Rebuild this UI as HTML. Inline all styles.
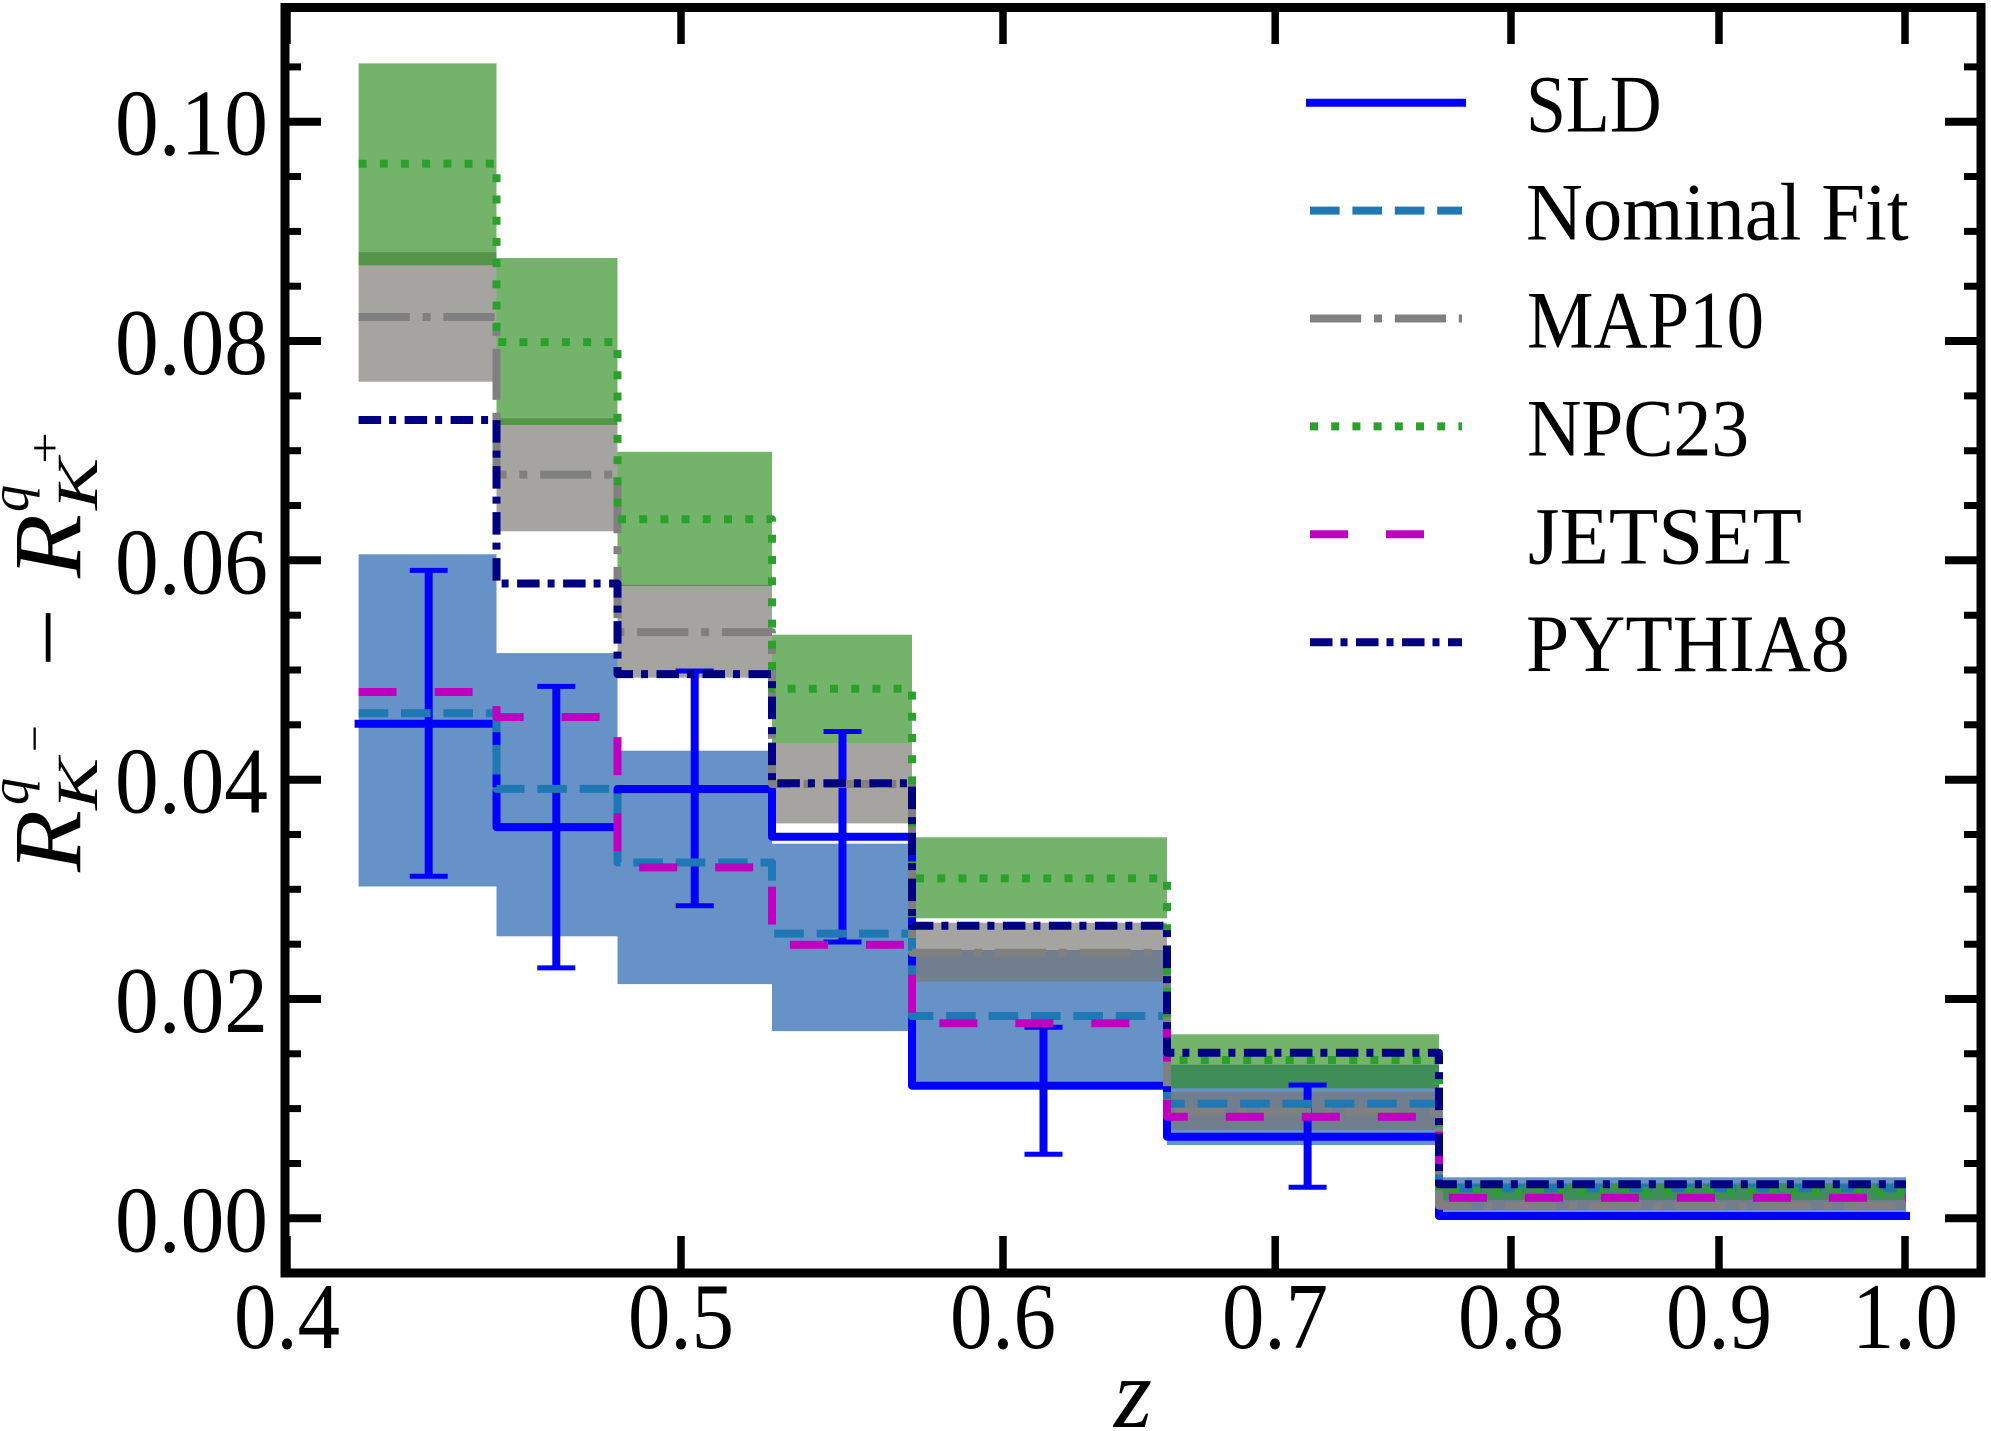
<!DOCTYPE html>
<html>
<head>
<meta charset="utf-8">
<style>
html,body{margin:0;padding:0;background:#fff;}
svg{display:block;}
text{font-family:"Liberation Serif","DejaVu Serif",serif;fill:#000;}
</style>
</head>
<body>
<svg width="1991" height="1431" viewBox="0 0 1991 1431" xmlns="http://www.w3.org/2000/svg">
<rect x="0" y="0" width="1991" height="1431" fill="#fff"/>

<!-- blue band -->
<g fill="#6792c8">
<rect x="358.6" y="554.3" width="137.9" height="332.2"/>
<rect x="496.5" y="653.1" width="121" height="283.2"/>
<rect x="617.5" y="750.7" width="154.5" height="233.4"/>
<rect x="772" y="843.7" width="140" height="187.4"/>
<rect x="912" y="950.0" width="255" height="138.9"/>
<rect x="1167" y="1064.8" width="272" height="80.2"/>
<rect x="1439" y="1177.3" width="467" height="41"/>
</g>
<!-- gray band -->
<g fill="rgb(118,115,110)" fill-opacity="0.65">
<rect x="358.6" y="252.2" width="137.9" height="129.5"/>
<rect x="496.5" y="418.3" width="121" height="113"/>
<rect x="617.5" y="584.8" width="154.5" height="92.9"/>
<rect x="772" y="743.0" width="140" height="80.4"/>
<rect x="912" y="922.7" width="255" height="59"/>
<rect x="1167" y="1091.6" width="272" height="38.4"/>
<rect x="1439" y="1200.0" width="467" height="10"/>
</g>
<!-- green band -->
<g fill="rgb(41,140,26)" fill-opacity="0.65">
<rect x="358.6" y="63.4" width="137.9" height="201.9"/>
<rect x="496.5" y="258.0" width="121" height="167"/>
<rect x="617.5" y="451.8" width="154.5" height="134.2"/>
<rect x="772" y="634.7" width="140" height="108.3"/>
<rect x="912" y="837.3" width="255" height="81"/>
<rect x="1167" y="1034.3" width="272" height="54.1"/>
<rect x="1439" y="1183.2" width="467" height="16.8"/>
</g>

<!-- error bars -->
<g stroke="#0000ff" fill="none">
<g stroke-width="8">
<line x1="428.7" y1="570.4" x2="428.7" y2="876.2"/>
<line x1="556.3" y1="686.4" x2="556.3" y2="967.9"/>
<line x1="694.7" y1="671.0" x2="694.7" y2="905.7"/>
<line x1="842.5" y1="731.5" x2="842.5" y2="942.0"/>
<line x1="1043.5" y1="1027.3" x2="1043.5" y2="1154.3"/>
<line x1="1307.6" y1="1085.0" x2="1307.6" y2="1187.3"/>
</g>
<g stroke-width="5">
<line x1="409.7" y1="570.4" x2="447.7" y2="570.4"/><line x1="409.7" y1="876.2" x2="447.7" y2="876.2"/>
<line x1="537.3" y1="686.4" x2="575.3" y2="686.4"/><line x1="537.3" y1="967.9" x2="575.3" y2="967.9"/>
<line x1="675.7" y1="671.0" x2="713.7" y2="671.0"/><line x1="675.7" y1="905.7" x2="713.7" y2="905.7"/>
<line x1="823.5" y1="731.5" x2="861.5" y2="731.5"/><line x1="823.5" y1="942.0" x2="861.5" y2="942.0"/>
<line x1="1024.5" y1="1027.3" x2="1062.5" y2="1027.3"/><line x1="1024.5" y1="1154.3" x2="1062.5" y2="1154.3"/>
<line x1="1288.6" y1="1085.0" x2="1326.6" y2="1085.0"/><line x1="1288.6" y1="1187.3" x2="1326.6" y2="1187.3"/>
</g>
</g>

<!-- step lines -->
<g fill="none" stroke-width="8" stroke-linejoin="round">
<path d="M358.6 723.8 H496.5 V827.1 H617.5 V789.0 H772 V836.8 H912 V1085.7 H1167 V1136.7 H1439 V1216.0 H1906" stroke="#0000ff" stroke-linecap="square"/>
<path d="M358.6 713.2 H496.5 V788.9 H617.5 V862.5 H772 V933.6 H912 V1016.0 H1167 V1103.8 H1439 V1188.3 H1906" stroke="#1f77b4" stroke-dasharray="29.6 12.8"/>
<path d="M358.6 317.0 H496.5 V474.6 H617.5 V632.1 H772 V784.0 H912 V952.7 H1167 V1111.7 H1439 V1205.7 H1906" stroke="#808080" stroke-dasharray="51.2 12.8 8 12.8"/>
<path d="M358.6 163.8 H496.5 V342.1 H617.5 V519.2 H772 V688.8 H912 V878.4 H1167 V1060.0 H1439 V1191.0 H1906" stroke="#2ca02c" stroke-dasharray="8 13.2"/>
<path d="M358.6 692.0 H496.5 V717.0 H617.5 V867.4 H772 V944.7 H912 V1023.3 H1167 V1116.8 H1439 V1197.7 H1906" stroke="#bf00bf" stroke-dasharray="38 38"/>
<path d="M358.6 420.0 H496.5 V583.5 H617.5 V674.1 H772 V783.2 H912 V925.7 H1167 V1052.7 H1439 V1184.3 H1906" stroke="#000080" stroke-dasharray="22.5 8 7 8.5"/>
</g>

<!-- legend -->
<g fill="none" stroke-width="8">
<line x1="1310" y1="102.7" x2="1462" y2="102.7" stroke="#0000ff" stroke-linecap="square"/>
<line x1="1310" y1="210.6" x2="1462" y2="210.6" stroke="#1f77b4" stroke-dasharray="29.6 12.8"/>
<line x1="1310" y1="318.5" x2="1462" y2="318.5" stroke="#808080" stroke-dasharray="51.2 12.8 8 12.8"/>
<line x1="1310" y1="426.4" x2="1462" y2="426.4" stroke="#2ca02c" stroke-dasharray="8 13.2"/>
<line x1="1310" y1="534.3" x2="1462" y2="534.3" stroke="#bf00bf" stroke-dasharray="38 38"/>
<line x1="1310" y1="642.2" x2="1462" y2="642.2" stroke="#000080" stroke-dasharray="22.5 8 7 8.5"/>
</g>
<g font-size="82">
<text x="1526" y="131.7" textLength="135.6" lengthAdjust="spacingAndGlyphs">SLD</text>
<text x="1526" y="239.6" textLength="382.8" lengthAdjust="spacingAndGlyphs">Nominal Fit</text>
<text x="1527" y="347.5" textLength="237" lengthAdjust="spacingAndGlyphs">MAP10</text>
<text x="1527" y="455.4" textLength="222" lengthAdjust="spacingAndGlyphs">NPC23</text>
<text x="1528" y="563.3" textLength="274" lengthAdjust="spacingAndGlyphs">JETSET</text>
<text x="1526" y="671.2" textLength="323.7" lengthAdjust="spacingAndGlyphs">PYTHIA8</text>
</g>

<!-- ticks -->
<g stroke="#000" stroke-width="8">
<!-- left majors -->
<line x1="285" y1="1218.3" x2="321" y2="1218.3"/>
<line x1="285" y1="999.0" x2="321" y2="999.0"/>
<line x1="285" y1="779.7" x2="321" y2="779.7"/>
<line x1="285" y1="560.3" x2="321" y2="560.3"/>
<line x1="285" y1="341.0" x2="321" y2="341.0"/>
<line x1="285" y1="121.7" x2="321" y2="121.7"/>
<!-- right majors -->
<line x1="1981" y1="1218.3" x2="1945" y2="1218.3"/>
<line x1="1981" y1="999.0" x2="1945" y2="999.0"/>
<line x1="1981" y1="779.7" x2="1945" y2="779.7"/>
<line x1="1981" y1="560.3" x2="1945" y2="560.3"/>
<line x1="1981" y1="341.0" x2="1945" y2="341.0"/>
<line x1="1981" y1="121.7" x2="1945" y2="121.7"/>
</g>
<g stroke="#000" stroke-width="7.5">
<!-- bottom x ticks -->
<line x1="287" y1="1273" x2="287" y2="1236"/>
<line x1="681" y1="1273" x2="681" y2="1236"/>
<line x1="1003" y1="1273" x2="1003" y2="1236"/>
<line x1="1275.2" y1="1273" x2="1275.2" y2="1236"/>
<line x1="1511" y1="1273" x2="1511" y2="1236"/>
<line x1="1719" y1="1273" x2="1719" y2="1236"/>
<line x1="1905" y1="1273" x2="1905" y2="1236"/>
<!-- top x ticks -->
<line x1="287" y1="7.5" x2="287" y2="44"/>
<line x1="681" y1="7.5" x2="681" y2="44"/>
<line x1="1003" y1="7.5" x2="1003" y2="44"/>
<line x1="1275.2" y1="7.5" x2="1275.2" y2="44"/>
<line x1="1511" y1="7.5" x2="1511" y2="44"/>
<line x1="1719" y1="7.5" x2="1719" y2="44"/>
<line x1="1905" y1="7.5" x2="1905" y2="44"/>
</g>
<g stroke="#000" stroke-width="7">
<!-- left minors -->
<line x1="285" y1="1163.5" x2="301" y2="1163.5"/>
<line x1="285" y1="1108.6" x2="301" y2="1108.6"/>
<line x1="285" y1="1053.8" x2="301" y2="1053.8"/>
<line x1="285" y1="944.2" x2="301" y2="944.2"/>
<line x1="285" y1="889.3" x2="301" y2="889.3"/>
<line x1="285" y1="834.5" x2="301" y2="834.5"/>
<line x1="285" y1="724.8" x2="301" y2="724.8"/>
<line x1="285" y1="670.0" x2="301" y2="670.0"/>
<line x1="285" y1="615.2" x2="301" y2="615.2"/>
<line x1="285" y1="505.5" x2="301" y2="505.5"/>
<line x1="285" y1="450.7" x2="301" y2="450.7"/>
<line x1="285" y1="395.9" x2="301" y2="395.9"/>
<line x1="285" y1="286.2" x2="301" y2="286.2"/>
<line x1="285" y1="231.4" x2="301" y2="231.4"/>
<line x1="285" y1="176.5" x2="301" y2="176.5"/>
<line x1="285" y1="66.9" x2="301" y2="66.9"/>
<!-- right minors -->
<line x1="1981" y1="1163.5" x2="1964" y2="1163.5"/>
<line x1="1981" y1="1108.6" x2="1964" y2="1108.6"/>
<line x1="1981" y1="1053.8" x2="1964" y2="1053.8"/>
<line x1="1981" y1="944.2" x2="1964" y2="944.2"/>
<line x1="1981" y1="889.3" x2="1964" y2="889.3"/>
<line x1="1981" y1="834.5" x2="1964" y2="834.5"/>
<line x1="1981" y1="724.8" x2="1964" y2="724.8"/>
<line x1="1981" y1="670.0" x2="1964" y2="670.0"/>
<line x1="1981" y1="615.2" x2="1964" y2="615.2"/>
<line x1="1981" y1="505.5" x2="1964" y2="505.5"/>
<line x1="1981" y1="450.7" x2="1964" y2="450.7"/>
<line x1="1981" y1="395.9" x2="1964" y2="395.9"/>
<line x1="1981" y1="286.2" x2="1964" y2="286.2"/>
<line x1="1981" y1="231.4" x2="1964" y2="231.4"/>
<line x1="1981" y1="176.5" x2="1964" y2="176.5"/>
<line x1="1981" y1="66.9" x2="1964" y2="66.9"/>
</g>

<!-- spines -->
<rect x="285" y="7.5" width="1696" height="1265.5" fill="none" stroke="#000" stroke-width="9"/>

<!-- y tick labels -->
<g font-size="94" text-anchor="end">
<text x="268" y="1251.3" textLength="153" lengthAdjust="spacingAndGlyphs">0.00</text>
<text x="268" y="1032.0" textLength="153" lengthAdjust="spacingAndGlyphs">0.02</text>
<text x="268" y="812.7" textLength="153" lengthAdjust="spacingAndGlyphs">0.04</text>
<text x="268" y="593.3" textLength="153" lengthAdjust="spacingAndGlyphs">0.06</text>
<text x="268" y="374.0" textLength="153" lengthAdjust="spacingAndGlyphs">0.08</text>
<text x="268" y="154.7" textLength="153" lengthAdjust="spacingAndGlyphs">0.10</text>
</g>
<!-- x tick labels -->
<g font-size="94">
<text x="234" y="1348" textLength="106" lengthAdjust="spacingAndGlyphs">0.4</text>
<text x="628" y="1348" textLength="106" lengthAdjust="spacingAndGlyphs">0.5</text>
<text x="950" y="1348" textLength="106" lengthAdjust="spacingAndGlyphs">0.6</text>
<text x="1222" y="1348" textLength="106" lengthAdjust="spacingAndGlyphs">0.7</text>
<text x="1458" y="1348" textLength="106" lengthAdjust="spacingAndGlyphs">0.8</text>
<text x="1666" y="1348" textLength="106" lengthAdjust="spacingAndGlyphs">0.9</text>
<text x="1852" y="1348" textLength="106" lengthAdjust="spacingAndGlyphs">1.0</text>
</g>

<!-- x label -->
<text x="1114" y="1427" font-size="100" font-style="italic" textLength="38" lengthAdjust="spacingAndGlyphs">z</text>

<!-- y label -->
<g transform="translate(80,640) rotate(-90)">
<text x="-232" y="0" font-size="96" font-style="italic" textLength="62" lengthAdjust="spacingAndGlyphs">R</text>
<text x="-165" y="-52" font-size="55" font-style="italic" textLength="27" lengthAdjust="spacingAndGlyphs">q</text>
<text x="-170" y="17" font-size="58" font-style="italic" textLength="52" lengthAdjust="spacingAndGlyphs">K</text>
<text x="-112" y="-30" font-size="46" textLength="27" lengthAdjust="spacingAndGlyphs">−</text>
<text x="-27" y="0" font-size="96" textLength="59" lengthAdjust="spacingAndGlyphs">−</text>
<text x="62" y="0" font-size="96" font-style="italic" textLength="64" lengthAdjust="spacingAndGlyphs">R</text>
<text x="128" y="-52" font-size="55" font-style="italic" textLength="27" lengthAdjust="spacingAndGlyphs">q</text>
<text x="130" y="17" font-size="58" font-style="italic" textLength="52" lengthAdjust="spacingAndGlyphs">K</text>
<text x="176" y="-20" font-size="46" textLength="32" lengthAdjust="spacingAndGlyphs">+</text>
</g>
</svg>
</body>
</html>
